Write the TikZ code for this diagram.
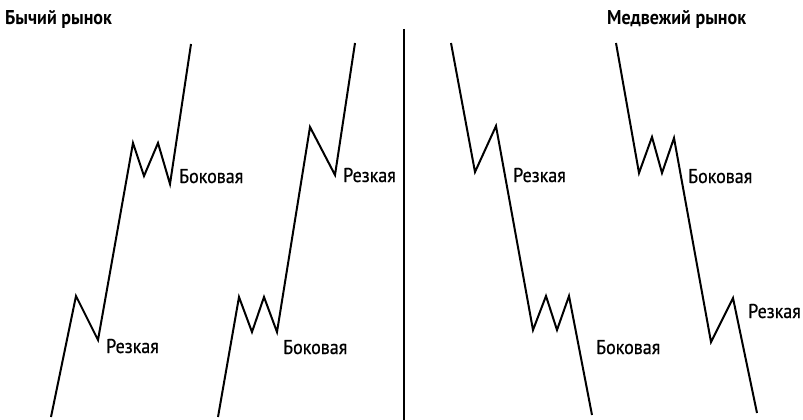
\documentclass[tikz,border=0pt]{standalone}
\usepackage{fontspec}
\setmainfont{PT Sans}[FakeStretch=0.9]
\newfontfamily\lblfont{PT Sans}[FakeStretch=0.9, FakeBold=0.6]
\usetikzlibrary{positioning}

\begin{document}
\begin{tikzpicture}[
  x=1pt, y=-1pt,
  price/.style={line width=2pt, line join=miter, line cap=butt},
  lbl/.style={anchor=base west, inner sep=0pt, font=\lblfont\fontsize{20}{20}\selectfont},
  ttl/.style={anchor=base west, inner sep=0pt, font=\fontsize{20}{20}\selectfont\bfseries}]
\useasboundingbox (0,0) rectangle (803,420);
% titles
\node[ttl] (bull) at (5,25) {Бычий рынок};
\node[ttl] (bear) at (607,25) {Медвежий рынок};
% divider
\draw[line width=1.6pt] (404,29) -- (404,420);
% bull market
\draw[price] (51,417) -- (76,296) -- (98,340) -- (133,143) -- (144,176)
  -- (158,143) -- (170,184) -- (191,44);
\node[lbl] (b1r) at (106,353) {Резкая};
\node[lbl] (b1s) at (179,183) {Боковая};
\draw[price] (218,417) -- (239,297) -- (252,332) -- (264,297) -- (277,332)
  -- (310,127) -- (335,175) -- (355,43);
\node[lbl] (b2s) at (283,354) {Боковая};
\node[lbl] (b2r) at (343,182) {Резкая};
% bear market
\draw[price] (451,43) -- (475,172) -- (496,126) -- (533,330) -- (546,296)
  -- (557,330) -- (569,296) -- (592,415);
\node[lbl] (s1r) at (513,182) {Резкая};
\node[lbl] (s1s) at (596,354) {Боковая};
\draw[price] (616,43) -- (639,173) -- (652,137) -- (662,173) -- (674,138)
  -- (711,342) -- (733,298) -- (757,413);
\node[lbl] (s2s) at (688,183) {Боковая};
\node[lbl] (s2r) at (748,318) {Резкая};
\end{tikzpicture}
\end{document}
